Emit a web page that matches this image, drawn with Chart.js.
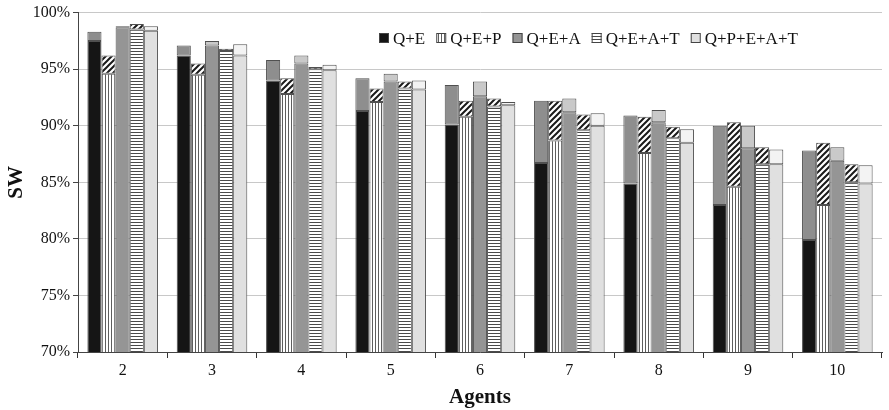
<!DOCTYPE html>
<html>
<head>
<meta charset="utf-8">
<script src="https://cdn.jsdelivr.net/npm/chart.js@4.4.1/dist/chart.umd.min.js"></script>
<style>
  body { margin: 0; background: #fff; }
  #wrap { width: 889px; height: 410px; }
</style>
</head>
<body>
<div id="wrap"><canvas id="myChart"></canvas></div>
<script>
const categories = ['2', '3', '4', '5', '6', '7', '8', '9', '10'];
const seriesNames = ['Q+E', 'Q+E+P', 'Q+E+A', 'Q+E+A+T', 'Q+P+E+A+T'];

// lower part of each bar
const qeBase    = [97.5, 96.2, 94.0, 91.3, 90.1, 86.7, 84.9, 83.0, 79.9];
const qepBase   = [94.6, 94.5, 92.8, 92.1, 90.8, 88.7, 87.6, 84.6, 83.0];
const qeaBase   = [98.7, 97.1, 95.5, 93.9, 92.6, 91.2, 90.3, 88.0, 86.9];
const qeatBase  = [98.5, 96.6, 95.0, 93.3, 91.7, 89.6, 88.9, 86.6, 85.0];
const qpeatBase = [98.4, 96.2, 94.9, 93.2, 91.8, 90.0, 88.5, 86.6, 84.9];

// top of each bar
const qeTop    = [98.3, 97.1, 95.8, 94.2, 93.6, 92.2, 90.9, 90.0, 87.8];
const qepTop   = [96.2, 95.5, 94.2, 93.3, 92.2, 92.2, 90.8, 90.3, 88.5];
const qeaTop   = [98.8, 97.5, 96.2, 94.6, 93.9, 92.4, 91.4, 90.0, 88.1];
const qeatTop  = [99.0, 96.8, 95.2, 93.9, 92.4, 91.0, 89.9, 88.1, 86.6];
const qpeatTop = [98.8, 97.2, 95.4, 94.0, 92.1, 91.1, 89.7, 87.9, 86.5];

const yTicks = [70, 75, 80, 85, 90, 95, 100];

function makePattern(kind) {
    const c = document.createElement('canvas');
    const ctx = c.getContext('2d');
    if (kind === 'vert') {
        c.width = 3; c.height = 3;
        ctx.fillStyle = '#fff'; ctx.fillRect(0, 0, 3, 3);
        ctx.fillStyle = '#5e5e5e'; ctx.fillRect(0, 0, 1, 3);
    } else if (kind === 'horiz') {
        c.width = 3; c.height = 3;
        ctx.fillStyle = '#fff'; ctx.fillRect(0, 0, 3, 3);
        ctx.fillStyle = '#4a4a4a'; ctx.fillRect(0, 0, 3, 1);
    } else {
        c.width = 6; c.height = 6;
        ctx.fillStyle = '#fff'; ctx.fillRect(0, 0, 6, 6);
        ctx.strokeStyle = '#1a1a1a'; ctx.lineWidth = 2;
        ctx.beginPath();
        ctx.moveTo(-1, 7); ctx.lineTo(7, -1);
        ctx.moveTo(-4, 4); ctx.lineTo(4, -4);
        ctx.moveTo(2, 10); ctx.lineTo(10, 2);
        ctx.stroke();
    }
    const p = document.createElement('canvas').getContext('2d');
    return p.createPattern(c, 'repeat');
}

const vert = makePattern('vert');
const horiz = makePattern('horiz');
const diag = makePattern('diag');

const bases = [qeBase, qepBase, qeaBase, qeatBase, qpeatBase];
const tops = [qeTop, qepTop, qeaTop, qeatTop, qpeatTop];
const baseFills = ['#151515', vert, '#959595', horiz, '#e0e0e0'];
const topFills = ['#8e8e8e', diag, '#c9c9c9', diag, '#f3f3f3'];

const datasets = [];
bases.forEach((b, i) => {
    datasets.push({
        label: seriesNames[i],
        stack: 's' + i,
        data: b,
        backgroundColor: baseFills[i],
        borderColor: '#505050',
        borderWidth: 1,
        borderSkipped: false
    });
});
tops.forEach((t, i) => {
    datasets.push({
        label: seriesNames[i] + ' top',
        stack: 's' + i,
        data: t.map((v, k) => +(v - bases[i][k]).toFixed(2)),
        backgroundColor: topFills[i],
        borderColor: '#505050',
        borderWidth: 1,
        borderSkipped: false
    });
});

const serif = "'Liberation Serif', 'DejaVu Serif', serif";

// legend drawn inside the plot, top right
const innerLegend = {
    id: 'innerLegend',
    afterDraw(chart) {
        const ctx = chart.ctx;
        ctx.save();
        ctx.font = '17px ' + serif;
        ctx.textBaseline = 'alphabetic';
        let x = 379;
        seriesNames.forEach((name, i) => {
            ctx.fillStyle = baseFills[i];
            ctx.fillRect(x, 33, 10, 10);
            ctx.strokeStyle = '#444';
            ctx.lineWidth = 1;
            ctx.strokeRect(x + 0.5, 33.5, 9, 9);
            ctx.fillStyle = '#111';
            ctx.fillText(name, x + 14, 44);
            x += 14 + ctx.measureText(name).width + 11;
        });
        ctx.restore();
    }
};

new Chart('myChart', {
    type: 'bar',
    data: { labels: categories, datasets: datasets },
    options: {
        responsive: true,
        maintainAspectRatio: false,
        animation: false,
        layout: { padding: { top: 8, right: 7, bottom: 0, left: 0 } },
        categoryPercentage: 0.79,
        barPercentage: 1.0,
        plugins: {
            tooltip: { enabled: false },
            legend: { display: false }
        },
        scales: {
            x: {
                stacked: true,
                afterFit: scale => { scale.height = 58; },
                grid: {
                    offset: true,
                    drawOnChartArea: false,
                    tickLength: 6,
                    color: '#333'
                },
                border: { color: '#444', width: 1 },
                ticks: { color: '#111', font: { family: serif, size: 16 }, padding: 3 },
                title: {
                    display: true,
                    text: 'Agents',
                    color: '#111',
                    font: { family: serif, size: 21, weight: 'bold' },
                    padding: { top: 0, bottom: 0 }
                }
            },
            y: {
                stacked: true,
                min: 70,
                max: 100,
                afterBuildTicks: scale => { scale.ticks = yTicks.map(v => ({ value: v })); },
                afterFit: scale => { scale.width = 78; },
                grid: {
                    color: '#c8c8c8',
                    tickColor: '#444',
                    tickLength: 5
                },
                border: { color: '#444', width: 1 },
                ticks: {
                    color: '#111',
                    font: { family: serif, size: 16 },
                    padding: 3,
                    callback: v => v + '%'
                },
                title: {
                    display: true,
                    text: 'SW',
                    color: '#111',
                    font: { family: serif, size: 21, weight: 'bold' },
                    padding: { top: 4, bottom: 2 }
                }
            }
        }
    },
    plugins: [innerLegend]
});
</script>
</body>
</html>
